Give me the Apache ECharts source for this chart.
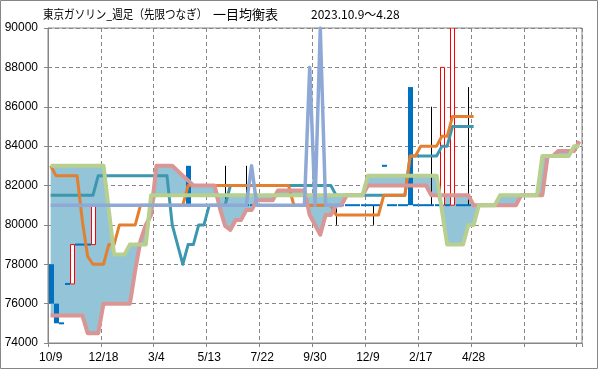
<!DOCTYPE html>
<html><head><meta charset="utf-8">
<script src="https://cdn.jsdelivr.net/npm/echarts@6/dist/echarts.min.js"></script>
<style>html,body{margin:0;padding:0;background:#fff}#c{width:599px;height:370px}</style>
</head><body><div id="c"></div>
<script>
// x-axis tick labels (one every 10 weeks)
const tickLabels = ['10/9','12/18','3/4','5/13','7/22','9/30','12/9','2/17','4/28','',''];
const weekCount = 101;

// Candles (weekly), index 0 = 2023/10/9
const candleOpen = [
 78000,76000,75000,77000,77000,79000,79000,79000,79000,81000,
 81000,81000,81000,81000,81000,81000,81000,81000,81000,81000,
 81000,81000,81000,81000,81000,81000,83000,81000,81000,81000,
 81000,81000,81000,81000,81000,81000,81000,81000,81000,81000,
 81000,81000,81000,81000,81000,81000,81000,81000,81000,81000,
 81000,81000,81000,81000,81000,81000,81000,81000,81000,81000,
 81000,81000,81000,83000,81000,81000,81000,81000,87000,81000,
 81000,81000,81000,81000,81000,81000,81000,81000,81000,81000,
 81000];
const candleClose = [
 76000,75000,75000,77000,79000,79000,79000,79000,81000,81000,
 81000,81000,81000,81000,81000,81000,81000,81000,81000,81000,
 81000,81000,81000,81000,81000,81000,81000,81000,81000,81000,
 81000,81000,81000,81000,81000,81000,81000,81000,81000,81000,
 81000,81000,81000,81000,81000,81000,81000,81000,81000,81000,
 81000,81000,81000,81000,81000,81000,81000,81000,81000,81000,
 81000,81000,81000,83000,81000,81000,81000,81000,81000,81000,
 81000,81000,81000,81000,88000,81000,90000,81000,81000,81000,
 81000];
const candleHigh = [
 78000,76000,75000,77000,79000,79000,79000,79000,81000,81000,
 81000,81000,81000,81000,81000,81000,81000,81000,81000,81000,
 81000,81000,81000,81000,81000,81000,83000,81000,81000,81000,
 81000,81000,81000,83000,81000,81000,81000,83000,81000,81000,
 81000,81000,81000,81000,81000,81000,81000,81000,81000,81000,
 81000,81000,81000,81000,81000,81000,81000,81000,81000,81000,
 81000,81000,81000,83000,81000,81000,81000,81000,87000,81000,
 81000,81000,86000,81000,88000,81000,90000,81000,81000,87000,
 81000];
const candleLow = [
 76000,75000,75000,77000,77000,79000,79000,79000,79000,81000,
 81000,81000,81000,81000,81000,81000,81000,81000,81000,81000,
 81000,81000,81000,81000,81000,81000,81000,81000,81000,81000,
 81000,81000,81000,81000,81000,81000,81000,81000,81000,81000,
 81000,81000,81000,81000,81000,81000,81000,81000,81000,81000,
 81000,81000,81000,81000,80000,81000,81000,81000,81000,81000,
 81000,80000,81000,83000,81000,81000,81000,81000,81000,81000,
 81000,81000,81000,81000,81000,81000,81000,81000,81000,81000,
 81000];

// 転換線
const tenkan = [
 83000,82500,82500,82500,82500,82500,80200,78400,78000,78000,
 78000,79000,79000,80000,80000,80000,80000,81000,81000,81000,
 81000,81000,81000,81000,81000,81000,82000,82000,82000,82000,
 82000,82000,82000,82000,82000,82000,82000,82000,82000,82000,
 82000,82000,82000,82000,82000,82000,81000,81000,81000,81000,
 81000,81000,81000,81000,80500,80500,80500,80500,80500,80500,
 80500,80500,80500,81500,81500,81500,81500,81500,83500,83500,
 84000,84000,84000,84000,84500,84500,85500,85500,85500,85500,
 85500];
// 基準線
const kijun = [
 81500,81500,81500,81500,81500,81500,81500,81500,81500,82500,
 82500,82500,82500,82500,82500,82500,82500,82500,82500,82500,
 82500,82500,82500,80000,79000,78000,79000,79000,80000,80000,
 81000,81000,81000,81000,82000,82000,82000,82000,82000,82000,
 82000,82000,82000,82000,82000,82000,82000,82000,82000,82000,
 82000,82000,82000,82000,81500,81500,81500,81500,81500,81500,
 81500,81500,81500,81500,81500,81500,81500,81500,83500,83500,
 83500,83500,83500,83500,84000,84000,85000,85000,85000,85000,
 85000];
// 先行スパン1
const senkouA = [
 75400,75400,75400,75400,75400,75400,75400,74500,74500,74500,
 76000,76000,76000,76000,76000,76000,77700,79200,80000,80500,
 83000,83000,83000,83000,82750,82500,82250,82000,82000,82000,
 82000,82000,80850,79950,79750,80250,80250,80750,80750,81250,
 81250,81250,81250,81750,81750,81750,81750,81750,81750,80500,
 80000,79500,80500,80500,81000,81000,81500,81500,81500,81500,
 82000,82000,82000,82000,82000,82000,82000,82000,82000,82000,
 82000,82000,81500,81500,81500,81500,81500,81500,81500,81500,
 81000,81000,81000,81000,81000,81000,81000,81000,81000,81500,
 81500,81500,81500,81500,83500,83500,83750,83750,83750,83750,
 84250];
// 先行スパン2
const senkouB = [
 83000,83000,83000,83000,83000,83000,83000,83000,83000,83000,
 83000,80750,78500,78500,78500,79000,79000,79000,79000,81500,
 81500,81500,81500,81500,81500,81500,81500,81500,81500,81500,
 81500,81500,81500,81500,81500,81500,81500,81500,81500,81500,
 81500,81500,81500,81500,81500,81500,81500,81500,81500,81500,
 81500,81500,81500,81500,81500,81500,81500,81500,81500,81500,
 82500,82500,82500,82500,82500,82500,82500,82500,82500,82500,
 82500,82500,82500,82500,80750,79000,79000,79000,79000,80000,
 80000,81000,81000,81000,81000,81500,81500,81500,81500,81500,
 81500,81500,81500,83500,83500,83500,83500,83500,83500,84000,
 84000];
// 遅行スパン
const chikou = [
 81000,81000,81000,81000,81000,81000,81000,81000,81000,81000,
 81000,81000,81000,81000,81000,81000,81000,81000,81000,81000,
 81000,81000,81000,81000,81000,81000,81000,81000,81000,81000,
 81000,81000,81000,81000,81000,81000,81000,81000,83000,81000,
 81000,81000,81000,81000,81000,81000,81000,81000,81000,88000,
 81000,90000,81000,81000,81000,81000];

const categories = Array.from({length: weekCount}, (_, i) => String(i));
const cloudBase = senkouA.map((a, i) => Math.min(a, senkouB[i]));
const cloudBand = senkouA.map((a, i) => Math.abs(a - senkouB[i]));
const candleData = candleOpen.map((o, i) => [i, o, candleClose[i], candleLow[i], candleHigh[i]]);

const FONT = 'Liberation Sans';
const CJK = '"Noto Sans CJK JP"';
const GRID = '#868686';
const chart = echarts.init(document.getElementById('c'), null, {renderer: 'canvas'});

function lineSeries(name, data, color, width, z) {
  return {
    name, type: 'line', data, z, showSymbol: false, symbol: 'none', silent: true,
    lineStyle: {color, width, join: 'round', cap: 'butt'}, animation: false
  };
}

chart.setOption({
  animation: false,
  grid: {left: 48, right: 17, top: 28, bottom: 27, show: true, borderColor: GRID, borderWidth: 1, containLabel: false},
  xAxis: {
    type: 'category', data: categories, boundaryGap: true,
    axisLine: {lineStyle: {color: GRID, width: 1}},
    axisTick: {show: true, interval: 9, length: 4, lineStyle: {color: GRID}},
    axisLabel: {interval: 9, margin: 9, color: '#000', fontFamily: FONT, fontSize: 12,
      formatter: (v, idx) => (idx % 10 === 0 ? (tickLabels[idx / 10] || '') : '')},
    splitLine: {show: true, interval: 9, lineStyle: {color: GRID, type: [4, 3], width: 1}}
  },
  yAxis: {
    type: 'value', min: 74000, max: 90000, interval: 2000,
    axisLine: {show: true, lineStyle: {color: GRID}},
    axisTick: {show: true, length: 4, lineStyle: {color: GRID}},
    axisLabel: {margin: 10, color: '#000', fontFamily: FONT, fontSize: 12, formatter: v => String(v)},
    splitLine: {show: true, lineStyle: {color: GRID, type: [4, 3], width: 1}}
  },
  graphic: [
    {type: 'rect', shape: {x: 0.5, y: 0.5, width: 597, height: 368}, style: {fill: 'none', stroke: GRID, lineWidth: 1}, silent: true, z: -10},
    {type: 'text', x: 43, y: 14, scaleX: 0.88, silent: true,
      style: {text: '東京ガソリン_週足（先限つなぎ）', font: '12px ' + CJK, fill: '#000', verticalAlign: 'middle'}},
    {type: 'text', x: 213, y: 14, silent: true,
      style: {text: '一目均衡表', font: '13px ' + CJK, fill: '#000', verticalAlign: 'middle'}},
    {type: 'text', x: 311, y: 14, silent: true,
      style: {text: '2023.10.9～4.28', font: '12px ' + CJK, fill: '#000', verticalAlign: 'middle'}}
  ],
  series: [
    {name: 'cloudBase', type: 'line', stack: 'cloud', data: cloudBase, showSymbol: false, symbol: 'none', silent: true,
      lineStyle: {width: 0, opacity: 0}, z: 1},
    {name: 'cloud', type: 'line', stack: 'cloud', data: cloudBand, showSymbol: false, symbol: 'none', silent: true,
      lineStyle: {width: 0, opacity: 0}, areaStyle: {color: '#93C4D7', opacity: 1}, z: 1},
    {
      name: 'candles', type: 'custom', data: candleData, z: 2, clip: true, silent: true,
      encode: {x: 0, y: [1, 2, 3, 4]},
      renderItem: (params, api) => {
        const i = api.value(0), o = api.value(1), c = api.value(2), l = api.value(3), h = api.value(4);
        const pO = api.coord([i, o]), pC = api.coord([i, c]), pL = api.coord([i, l]), pH = api.coord([i, h]);
        const x = Math.round(pO[0]) + 0.5, w = 4;
        const kids = [];
        if (h > Math.max(o, c) || l < Math.min(o, c)) {
          kids.push({type: 'line', shape: {x1: x, y1: pH[1], x2: x, y2: pL[1]}, style: {stroke: '#000', lineWidth: 1}});
        }
        if (c > o) {
          kids.push({type: 'rect', shape: {x: x - w / 2, y: pC[1], width: w, height: pO[1] - pC[1]}, style: {fill: '#fff', stroke: '#ff0000', lineWidth: 1}});
        } else if (c < o) {
          kids.push({type: 'rect', shape: {x: x - w / 2 - 0.5, y: pO[1], width: w + 1, height: pC[1] - pO[1]}, style: {fill: '#0070C0', stroke: null}});
        } else {
          kids.push({type: 'line', shape: {x1: x - w / 2 - 0.5, y1: pO[1], x2: x + w / 2 + 0.5, y2: pO[1]}, style: {stroke: '#0070C0', lineWidth: 2}});
        }
        return {type: 'group', children: kids};
      }
    },
    lineSeries('基準線', kijun, '#3D97AF', 3, 3),
    lineSeries('転換線', tenkan, '#E47F2F', 3, 4),
    lineSeries('先行スパン1', senkouA, '#D99694', 4, 5),
    lineSeries('先行スパン2', senkouB, '#B7CF8F', 4, 6),
    lineSeries('遅行スパン', chikou, '#8FA9D6', 3.5, 7)
  ]
});
</script></body></html>
